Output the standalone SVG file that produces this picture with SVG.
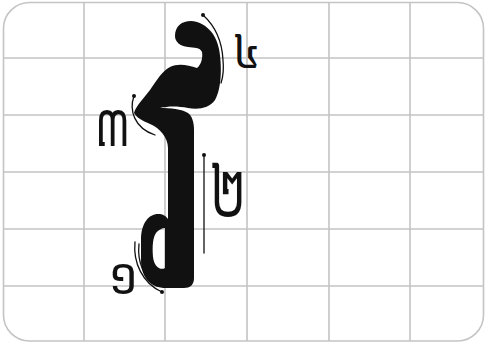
<svg xmlns="http://www.w3.org/2000/svg" width="487" height="345" viewBox="0 0 487 345">
  <style>
    .grid { stroke: #c4c4c4; stroke-width: 1.6; fill: none; }
    .guide { stroke: #111; stroke-width: 1.3; fill: none; stroke-linecap: round; }
    .dot { fill: #111; }
    .num { font-family: "Noto Sans Khmer", "Khmer OS", "DejaVu Sans", sans-serif; fill: #111; }
  </style>
  <rect x="0" y="0" width="487" height="345" fill="#ffffff"/>
  <g id="grid">
    <rect class="grid" x="3.5" y="2.5" width="480" height="338.5" rx="26" ry="26"/>
    <path class="grid" d="M84 2.5V341 M165 2.5V341 M247 2.5V341 M329 2.5V341 M410 2.5V341 M3.5 58H483.5 M3.5 115H483.5 M3.5 172H483.5 M3.5 229H483.5 M3.5 286H483.5"/>
  </g>
  <g id="letter">
    <path fill="#111" fill-rule="evenodd" d="M175 36 C175 26 182 21 191 21 C205 22 216 33 219 49 C222 65 222 88 215 100 C209 108 199 110 188 108 C178 106 168 106 160 108 C170 108 182 109 188 113 C192 116 194 122 194 130 L194 278 C194 285 190 288 184 288 L166 288 C151 288 141 278 141 260 L141 240 C141 223 149 214 158 214 C163 214 166 216 168 219 L168 148 C168 138 160 128 150 124 C143 121 137 118 134 113 C136 106 143 99 150 90 C157 80 162 71 170 67 C178 63 188 65 197 68 C201 65 203 58 202 52 C200 47 194 48 188 47 C180 46 175 42 175 36 Z M165 228 L165 268 C160 271 154 266 153 257 C152 246 153 237 156 233 C158 230 162 228 165 228 Z"/>
  </g>
  <g id="guides">
    <path class="guide" d="M203 15 C214 25 222 40 223 60 C224 70 223 77 221 83"/>
    <circle class="dot" cx="203" cy="15" r="2"/>
    <path class="guide" d="M134 96 C129 110 134 128 155 135"/>
    <circle class="dot" cx="134" cy="96" r="2"/>
    <path class="guide" d="M204 155 V253"/>
    <circle class="dot" cx="204" cy="155" r="2"/>
    <path class="guide" d="M135 242 C133 262 142 283 162 292"/>
    <path class="guide" d="M139 244 C137 262 144 278 157 286"/>
    <circle class="dot" cx="162" cy="292" r="2"/>
  </g>
  <g id="labels">
    <text class="num" font-size="44" transform="translate(233,68) scale(1,1.1)">៤</text>
    <text class="num" font-size="41" transform="translate(95,146) scale(1,1.5)">៣</text>
    <text class="num" font-size="48" transform="translate(210,217) scale(1,1.59)">២</text>
    <text class="num" font-size="48" transform="translate(108,294) scale(1,1.05)">១</text>
  </g>
</svg>
